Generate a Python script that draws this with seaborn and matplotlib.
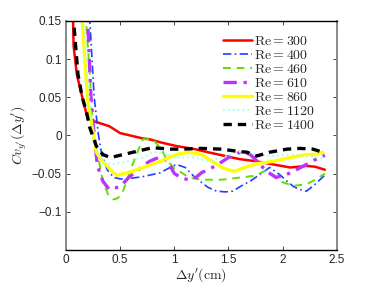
import numpy as np
import matplotlib
matplotlib.use('Agg')
import matplotlib.pyplot as plt
import seaborn as sns

re300_x = [0.05, 0.065, 0.07, 0.1, 0.15, 0.2, 0.27, 0.4, 0.5, 0.62, 0.71, 0.77, 0.87, 1.02, 1.19, 1.31, 1.47, 1.6, 1.76, 1.91, 2.07, 2.22, 2.3, 2.39]
re300_y = [0.2, 0.15, 0.117, 0.08, 0.05, 0.022, 0.018, 0.012, 0.003, -0.001, -0.004, -0.005, -0.009, -0.014, -0.018, -0.022, -0.027, -0.031, -0.034, -0.038, -0.042, -0.04, -0.041, -0.045]

re400_x = [0.2, 0.22, 0.26, 0.3, 0.33, 0.38, 0.44, 0.5, 0.56, 0.71, 0.87, 0.96, 1.02, 1.1, 1.19, 1.31, 1.39, 1.47, 1.54, 1.62, 1.7, 1.79, 1.88, 1.97, 2.04, 2.1, 2.16, 2.22, 2.3, 2.39]
re400_y = [0.2, 0.15, 0.05, 0.0, -0.025, -0.045, -0.055, -0.057, -0.057, -0.054, -0.049, -0.042, -0.038, -0.042, -0.055, -0.068, -0.073, -0.074, -0.073, -0.066, -0.06, -0.051, -0.042, -0.051, -0.06, -0.067, -0.071, -0.073, -0.064, -0.052]

re460_x = [0.16, 0.185, 0.22, 0.25, 0.3, 0.34, 0.39, 0.44, 0.48, 0.53, 0.59, 0.67, 0.71, 0.8, 0.88, 0.94, 1.0, 1.08, 1.13, 1.25, 1.44, 1.62, 1.73, 1.85, 1.97, 2.1, 2.22, 2.3, 2.39]
re460_y = [0.2, 0.15, 0.08, 0.004, -0.031, -0.06, -0.078, -0.084, -0.082, -0.072, -0.047, -0.018, -0.005, -0.005, -0.018, -0.034, -0.043, -0.05, -0.055, -0.058, -0.058, -0.055, -0.053, -0.046, -0.06, -0.066, -0.064, -0.058, -0.05]

re610_x = [0.18, 0.2, 0.23, 0.26, 0.29, 0.34, 0.4, 0.5, 0.58, 0.65, 0.77, 0.87, 0.94, 1.0, 1.07, 1.13, 1.2, 1.25, 1.38, 1.5, 1.62, 1.7, 1.78, 1.85, 1.94, 2.04, 2.1, 2.22, 2.31, 2.39]
re610_y = [0.2, 0.15, 0.05, 0.0, -0.04, -0.06, -0.071, -0.067, -0.055, -0.047, -0.034, -0.028, -0.034, -0.05, -0.056, -0.058, -0.055, -0.049, -0.04, -0.029, -0.021, -0.025, -0.036, -0.047, -0.055, -0.051, -0.047, -0.038, -0.031, -0.026]

re860_x = [0.13, 0.15, 0.2, 0.24, 0.28, 0.33, 0.38, 0.43, 0.47, 0.5, 0.59, 0.71, 0.87, 1.02, 1.13, 1.25, 1.35, 1.44, 1.5, 1.56, 1.65, 1.76, 1.91, 2.07, 2.22, 2.3, 2.37]
re860_y = [0.2, 0.15, 0.045, 0.012, -0.022, -0.033, -0.04, -0.048, -0.052, -0.051, -0.048, -0.042, -0.034, -0.025, -0.022, -0.025, -0.034, -0.042, -0.045, -0.047, -0.042, -0.037, -0.034, -0.029, -0.025, -0.025, -0.022]

re1120_x = [0.14, 0.16, 0.2, 0.25, 0.3, 0.35, 0.41, 0.56, 0.71, 0.8, 0.9, 1.0, 1.19, 1.31, 1.42, 1.53, 1.6, 1.7, 1.91, 2.1, 2.32, 2.39]
re1120_y = [0.2, 0.15, 0.07, 0.0, -0.025, -0.034, -0.038, -0.034, -0.029, -0.022, -0.022, -0.029, -0.029, -0.034, -0.03, -0.025, -0.021, -0.024, -0.027, -0.025, -0.029, -0.03]

re1400_x = [0.06, 0.07, 0.11, 0.15, 0.19, 0.22, 0.28, 0.34, 0.41, 0.53, 0.65, 0.8, 0.96, 1.07, 1.25, 1.44, 1.59, 1.67, 1.76, 1.88, 2.04, 2.16, 2.28, 2.37]
re1400_y = [0.2, 0.15, 0.08, 0.05, 0.03, 0.01, -0.014, -0.025, -0.029, -0.025, -0.021, -0.016, -0.018, -0.018, -0.017, -0.018, -0.021, -0.022, -0.027, -0.022, -0.018, -0.017, -0.018, -0.022]

labels = ['300', '400', '460', '610', '860', '1120', '1400']
xticks = [0, 0.5, 1, 1.5, 2, 2.5]
yticks = [-0.1, -0.05, 0, 0.05, 0.1, 0.15]

sns.set_style('ticks')
plt.rcParams['font.family'] = ['Liberation Sans', 'DejaVu Sans']
plt.rcParams['mathtext.fontset'] = 'cm'

fig = plt.figure(figsize=(3.73, 2.83), dpi=100)
ax = fig.add_axes([0.177, 0.117, 0.726, 0.809])

series = [
    (re300_x, re300_y, '#ff0000', '-', 1.8),
    (re400_x, re400_y, '#2040ff', (0, (5, 2, 1, 2)), 1.2),
    (re460_x, re460_y, '#66dd00', (0, (4, 3)), 1.4),
    (re610_x, re610_y, '#bb33ff', (0, (4, 2, 1, 2)), 2.4),
    (re860_x, re860_y, '#ffff00', '-', 2.4),
    (re1120_x, re1120_y, '#aaffee', (0, (1, 1.5)), 1.4),
    (re1400_x, re1400_y, '#000000', (0, (2.5, 1.8)), 2.4),
]
for (xs, ys, c, ls, lw), lab in zip(series, labels):
    sns.lineplot(x=xs, y=ys, ax=ax, color=c, linestyle=ls, linewidth=lw,
                 sort=False, estimator=None, label=r'$\mathrm{Re} = %s$' % lab)

ax.set_xlim(0, 2.5)
ax.set_ylim(-0.15, 0.15)
ax.set_xticks(xticks)
ax.set_xticklabels(['0', '0.5', '1', '1.5', '2', '2.5'])
ax.set_yticks(yticks)
ax.set_yticklabels(['\u22120.1', '\u22120.05', '0', '0.05', '0.1', '0.15'])
ax.tick_params(direction='in', top=True, right=True, length=3, width=0.6,
               labelsize=8.5, pad=3)
for s in ['left', 'right']:
    ax.spines[s].set_color('#8a8a8a')
    ax.spines[s].set_linewidth(1.4)
for s in ['top', 'bottom']:
    ax.spines[s].set_color('black')
    ax.spines[s].set_linewidth(1.0)

ax.set_xlabel(r"$\Delta y'(\mathrm{cm})$", fontsize=10, labelpad=0)
ax.set_ylabel(r"$Cv_{y'}(\Delta y')$", fontsize=10, labelpad=2)

ax.legend(loc='upper right', frameon=False, fontsize=10, handlelength=2.1,
          handletextpad=0.2, labelspacing=0.0, borderaxespad=0.4,
          bbox_to_anchor=(0.963, 0.99))

fig.savefig('out.png', dpi=100)
